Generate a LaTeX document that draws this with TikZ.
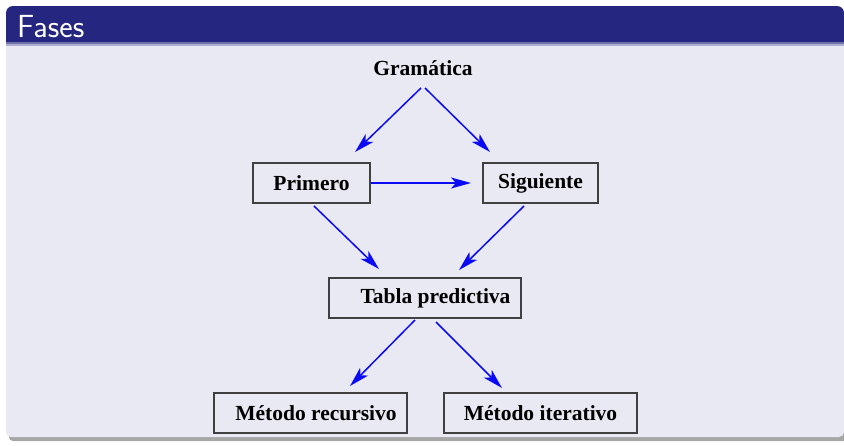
\documentclass[tikz,border=0pt]{standalone}
\usepackage{fontspec}
\setmainfont{Liberation Serif}
\usetikzlibrary{arrows.meta}
\definecolor{titleblue}{HTML}{25267F}
\definecolor{bodybg}{HTML}{E9E9F3}
\definecolor{boxline}{HTML}{404040}
\definecolor{arrblue}{HTML}{0A0AF5}
\tikzset{
  stepbox/.style={draw=boxline, line width=1.1pt, minimum height=40pt, inner sep=0pt,
    font=\fontsize{21.5}{25}\selectfont\bfseries},
  plainlbl/.style={inner sep=0pt, font=\fontsize{21.5}{25}\selectfont\bfseries},
  arr/.style={draw=arrblue, line width=1.5pt, -{Stealth[length=20pt,width=11pt,inset=5pt]}},
}
\begin{document}
\begin{tikzpicture}[x=1pt,y=-1pt]
\useasboundingbox (0,0) rectangle (844,445);
% shadow
\fill[gray!70, rounded corners=4pt] (9,50) rectangle (848,441);
% body
\fill[bodybg, rounded corners=5pt] (6,30) rectangle (844,437);
% title bar
\fill[titleblue, rounded corners=7pt] (6,6) rectangle (844,40);
\fill[titleblue] (6,25) rectangle (844,42);
\fill[titleblue!60!bodybg] (6,42) rectangle (844,44);
\fill[titleblue!30!bodybg] (6,44) rectangle (844,46);
\node[anchor=base west, inner sep=0pt, text=white, font=\sffamily\fontsize{32}{35}\selectfont] (title) at (17,37) {Fases};
% nodes
\node[plainlbl] (gram) at (423,68) {Gramática};
\node[stepbox, minimum width=117pt] (prim) at (311.5,183) {Primero};
\node[stepbox, minimum width=115pt] (sig) at (540.5,183) {Siguiente};
\node[stepbox, minimum width=192pt] (tabla) at (425,298) {\hspace{21pt}Tabla predictiva};
\node[stepbox, minimum width=193pt] (rec) at (310.5,413) {\hspace{11pt}Método recursivo};
\node[stepbox, minimum width=193pt] (ite) at (540.5,413) {Método iterativo};
% arrow end points
\coordinate (g1) at (421,88);
\coordinate (g2) at (425,88);
\coordinate (p1) at (355,152);
\coordinate (s1) at (490,152);
\coordinate (ps1) at (371,183);
\coordinate (ps2) at (471,183);
\coordinate (pt1) at (314,206);
\coordinate (pt2) at (379,269);
\coordinate (st1) at (524,206);
\coordinate (st2) at (459,270);
\coordinate (tr1) at (415,320);
\coordinate (tr2) at (350,386);
\coordinate (ti1) at (436,322);
\coordinate (ti2) at (502,388);
% connectors
\draw[arr] (g1) -- (p1);
\draw[arr] (g2) -- (s1);
\draw[arr] (ps1) -- (ps2);
\draw[arr] (pt1) -- (pt2);
\draw[arr] (st1) -- (st2);
\draw[arr] (tr1) -- (tr2);
\draw[arr] (ti1) -- (ti2);
\end{tikzpicture}
\end{document}
